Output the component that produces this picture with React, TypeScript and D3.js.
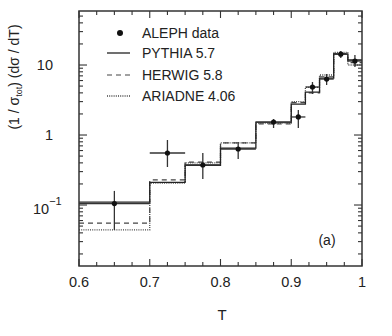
import * as d3 from "d3";

// bin edges in T
const binEdges = [0.6, 0.7, 0.75, 0.8, 0.85, 0.9, 0.92, 0.94, 0.96, 0.98, 1.0];
// model predictions per bin
const pythia = [0.11, 0.21, 0.37, 0.65, 1.53, 2.77, 4.1, 6.5, 14.3, 11.8];
const herwig = [0.055, 0.228, 0.41, 0.77, 1.44, 2.9, 4.0, 6.8, 14.5, 10.8];
const ariadne = [0.044, 0.206, 0.4, 0.77, 1.48, 3.0, 4.8, 7.2, 15.2, 10.0];
// ALEPH data
const dataT = [0.65, 0.725, 0.775, 0.825, 0.875, 0.91, 0.93, 0.95, 0.97, 0.99];
const dataV = [0.105, 0.553, 0.373, 0.631, 1.53, 1.81, 4.85, 6.3, 14.3, 11.4];
const dataHi = [0.159, 0.848, 0.553, 0.795, 1.69, 2.27, 5.72, 7.44, 15.8, 13.9];
const dataLo = [0.044, 0.349, 0.235, 0.454, 1.26, 1.26, 3.85, 5.18, 12.6, 9.37];
const xTicks = [0.6, 0.7, 0.8, 0.9, 1];
const xTickLabels = ["0.6", "0.7", "0.8", "0.9", "1"];
const legendLabels = ["ALEPH data", "PYTHIA 5.7", "HERWIG 5.8", "ARIADNE 4.06"];

const W = 392;
const H = 336;
const left = 79;
const right = 362;
const top = 11;
const bottom = 266;
const font = "'Liberation Sans', Arial, sans-serif";
const ink = "#222";

export default function App() {
  const x = d3.scaleLinear().domain([0.6, 1.0]).range([left, right]);
  const y = d3.scaleLog().domain([0.01345, 59.1]).range([bottom, top]);

  // step path for a histogram
  const histPath = (vals: number[]) => {
    const pts: [number, number][] = [];
    vals.forEach((v, i) => {
      pts.push([binEdges[i], v]);
      pts.push([binEdges[i + 1], v]);
    });
    return d3
      .line<[number, number]>()
      .x((d) => x(d[0]))
      .y((d) => y(d[1]))(pts) as string;
  };

  // x ticks every 0.025, longer at each 0.1
  const xMinor = d3.range(0, 17).map((i) => 0.6 + i * 0.025);
  const isMajorX = (t: number) => Math.abs(t * 10 - Math.round(t * 10)) < 1e-6;

  // y log ticks
  const yTicks: { v: number; major: boolean }[] = [];
  for (let e = -2; e <= 1; e++) {
    for (let m = 1; m <= 9; m++) {
      const v = m * Math.pow(10, e);
      if (v >= 0.01345 && v <= 59.1) yTicks.push({ v, major: m === 1 });
    }
  }

  const legendY = [33, 53, 75, 96];

  return (
    <svg width={W} height={H} style={{ position: "absolute", left: 0, top: 0, background: "#fff" }}>
      {/* histograms */}
      <path d={histPath(ariadne)} fill="none" stroke="#444" strokeWidth={1.3} strokeDasharray="1 1.2" />
      <path d={histPath(herwig)} fill="none" stroke="#444" strokeWidth={1.2} strokeDasharray="5 4" />
      <path d={histPath(pythia)} fill="none" stroke={ink} strokeWidth={1.3} />

      {/* data with error bars */}
      {dataT.map((t, i) => (
        <g key={i}>
          <line x1={x(t)} x2={x(t)} y1={y(dataHi[i])} y2={y(dataLo[i])} stroke="#333" strokeWidth={1.3} />
          <line x1={x(binEdges[i])} x2={x(binEdges[i + 1])} y1={y(dataV[i])} y2={y(dataV[i])} stroke="#333" strokeWidth={1.3} />
          <circle cx={x(t)} cy={y(dataV[i])} r={2.6} fill="#111" />
        </g>
      ))}

      {/* frame */}
      <rect x={left} y={top} width={right - left} height={bottom - top} fill="none" stroke="#333" strokeWidth={1.5} />

      {/* x ticks */}
      {xMinor.map((t, i) => {
        const len = isMajorX(t) ? 7 : 4;
        return (
          <g key={i} stroke="#333" strokeWidth={1.1}>
            <line x1={x(t)} x2={x(t)} y1={bottom} y2={bottom - len} />
            <line x1={x(t)} x2={x(t)} y1={top} y2={top + len} />
          </g>
        );
      })}
      {/* y ticks */}
      {yTicks.map((t, i) => {
        const len = t.major ? 8 : 4;
        return (
          <g key={i} stroke="#333" strokeWidth={1.1}>
            <line x1={left} x2={left + len} y1={y(t.v)} y2={y(t.v)} />
            <line x1={right} x2={right - len} y1={y(t.v)} y2={y(t.v)} />
          </g>
        );
      })}

      {/* x tick labels */}
      {xTicks.map((t, i) => (
        <text key={i} x={x(t)} y={287} textAnchor="middle" fontFamily={font} fontSize={14.5} fill={ink}>
          {xTickLabels[i]}
        </text>
      ))}
      {/* y tick labels */}
      <text x={53} y={y(10) + 5} textAnchor="end" fontFamily={font} fontSize={14.5} fill={ink}>10</text>
      <text x={53} y={y(1) + 5} textAnchor="end" fontFamily={font} fontSize={14.5} fill={ink}>1</text>
      <text x={33} y={y(0.1) + 9} fontFamily={font} fontSize={14.5} fill={ink}>
        10
        <tspan dy={-9} fontSize={11}>−1</tspan>
      </text>

      {/* axis titles */}
      <text x={222} y={320} textAnchor="middle" fontFamily={font} fontSize={15} fill={ink}>T</text>
      <text
        transform={`translate(19, 77) rotate(-90)`}
        textAnchor="middle"
        fontFamily={font}
        fontSize={14}
        fill={ink}
      >
        (1 / σ<tspan dy={3} fontSize={9}>tot</tspan><tspan dy={-3}>) (dσ / dT)</tspan>
      </text>

      {/* legend */}
      <circle cx={120} cy={legendY[0]} r={3} fill="#111" />
      <line x1={107} x2={130} y1={legendY[1]} y2={legendY[1]} stroke={ink} strokeWidth={1.3} />
      <line x1={107} x2={130} y1={legendY[2]} y2={legendY[2]} stroke="#444" strokeWidth={1.2} strokeDasharray="5 4" />
      <line x1={107} x2={130} y1={legendY[3]} y2={legendY[3]} stroke="#444" strokeWidth={1.3} strokeDasharray="1 1.2" />
      {legendLabels.map((s, i) => (
        <text key={s} x={142} y={legendY[i] + 5} fontFamily={font} fontSize={14} fill={ink}>
          {s}
        </text>
      ))}

      <text x={327} y={245} textAnchor="middle" fontFamily={font} fontSize={14} fill={ink}>(a)</text>
    </svg>
  );
}
